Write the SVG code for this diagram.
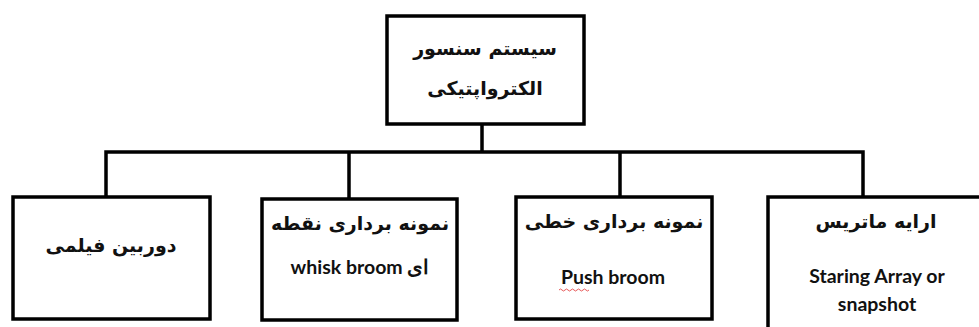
<svg xmlns="http://www.w3.org/2000/svg" width="979" height="327" viewBox="0 0 979 327">
<style>
.box{fill:#fff;stroke:#000;stroke-width:3.5}
.ln{fill:none;stroke:#000;stroke-width:3.5;stroke-linecap:square}
.fa{font-family:"DejaVu Sans",sans-serif;font-weight:bold;font-size:19px;fill:#111;text-anchor:middle}
.en{font-family:Lato,"Liberation Sans",sans-serif;font-weight:bold;font-size:19.5px;fill:#111;text-anchor:middle}
</style>
<rect width="979" height="327" fill="#fff"/>
<g id="connectors">
<path class="ln" d="M482 124V152M106 152H863M106 152V197M349 152V199M620 152V197M863 152V197"/>
</g>
<g id="root">
<rect class="box" x="387" y="16" width="197" height="108"/>
<text class="fa" x="485" y="55">سیستم سنسور</text>
<text class="fa" x="485" y="95">الکترواپتیکی</text>
</g>
<g id="film">
<rect class="box" x="13" y="197" width="197" height="122"/>
<text class="fa" x="111" y="252">دوربین فیلمی</text>
</g>
<g id="whisk">
<rect class="box" x="262" y="199" width="195" height="121"/>
<text class="fa" x="360" y="230">نمونه برداری نقطه</text>
<text class="en" x="360" y="274" direction="rtl">ای whisk broom</text>
</g>
<g id="push">
<rect class="box" x="516" y="197" width="196" height="122"/>
<text class="fa" x="614" y="228">نمونه برداری خطی</text>
<text class="en" x="613" y="284">Push broom</text>
<path d="M559 290q1.5-2 3 0t3 0t3 0t3 0t3 0t3 0t3 0t3 0t3 0t3 0" fill="none" stroke="#e03030" stroke-width="0.8"/>
</g>
<g id="staring">
<path class="box" d="M768 330V197H982"/>
<text class="fa" x="876" y="228">ارایه ماتریس</text>
<text class="en" x="877" y="283">Staring Array or</text>
<text class="en" x="877" y="311">snapshot</text>
</g>
</svg>
